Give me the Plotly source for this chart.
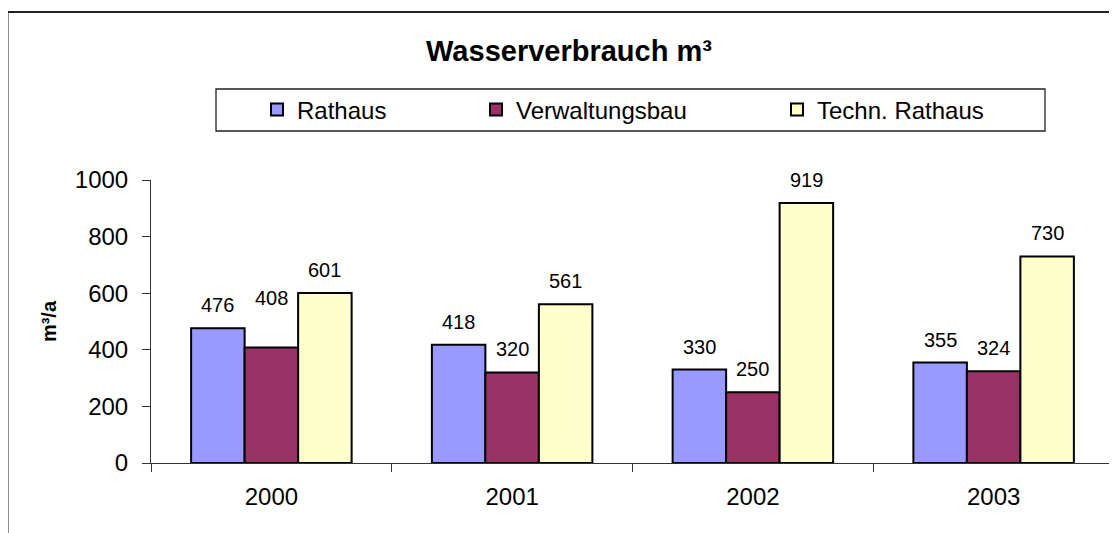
import plotly.graph_objects as go

years = ["2000", "2001", "2002", "2003"]
series_names = ["Rathaus", "Verwaltungsbau", "Techn. Rathaus"]
rathaus = [476, 418, 330, 355]
verwaltungsbau = [408, 320, 250, 324]
techn_rathaus = [601, 561, 919, 730]
y_ticks = [0, 200, 400, 600, 800, 1000]

values = [rathaus, verwaltungsbau, techn_rathaus]
colors = ["#9999FF", "#993366", "#FFFFCC"]

W, H = 1117, 533
OFF = 8  # page offset of the figure inside the browser window
L, T = 151 - OFF, 180 - OFF
R = W - (1114 - OFF)
B = H - (463 - OFF)
plot_w = W - L - R
plot_h = H - T - B
bargap = 1 / 3

def px_x(x):
    return (x - OFF - L) / plot_w

def px_y(y):
    return 1 - (y - OFF - T) / plot_h

# legend entry widths (text part), in px
legend_widths = [174, 256, 190]

fig = go.Figure()
for name, vals, col, lw in zip(series_names, values, colors, legend_widths):
    fig.add_trace(go.Bar(
        x=years, y=vals, name=name,
        marker=dict(color=col, line=dict(color="#000000", width=2)),
        legendwidth=lw,
    ))

# data labels above bars
bar_w = plot_w / len(years) * (1 - bargap) / len(series_names)
extra_lift = {(0, 1): 27}
annotations = []
for si, vals in enumerate(values):
    off = (si - (len(series_names) - 1) / 2) * bar_w
    for yi, v in enumerate(vals):
        annotations.append(dict(
            x=yi, y=v, xref="x", yref="y", text=str(v), showarrow=False,
            xshift=off, yshift=23 + extra_lift.get((yi, si), 0),
            yanchor="middle", xanchor="center",
            font=dict(family="Liberation Sans, Arial, sans-serif", size=20, color="#000"),
        ))

shapes = [
    # outer chart border (left and top)
    dict(type="line", xref="paper", yref="paper",
         x0=px_x(7.5), x1=px_x(1125), y0=px_y(12), y1=px_y(12),
         line=dict(color="#222", width=2)),
    dict(type="line", xref="paper", yref="paper",
         x0=px_x(7.5), x1=px_x(7.5), y0=px_y(12), y1=px_y(545),
         line=dict(color="#222", width=2)),
    # legend box
    dict(type="rect", xref="paper", yref="paper",
         x0=px_x(216), x1=px_x(1045), y0=px_y(131), y1=px_y(89),
         line=dict(color="#222", width=1.3), fillcolor="rgba(0,0,0,0)"),
]

fig.update_layout(
    width=W, height=H,
    margin=dict(l=L, r=R, t=T, b=B, autoexpand=False),
    paper_bgcolor="white", plot_bgcolor="white",
    font=dict(family="Liberation Sans, Arial, sans-serif", size=24, color="#000"),
    title=dict(text="<b>Wasserverbrauch m³</b>", x=(569 - OFF) / W, xanchor="center",
               y=1 - (51 - OFF) / H, yanchor="middle",
               font=dict(size=29, family="Liberation Sans, Arial, sans-serif")),
    barmode="group", bargap=bargap, bargroupgap=0,
    showlegend=True,
    legend=dict(orientation="h", x=px_x(257), xanchor="left",
                y=px_y(110), yanchor="middle",
                font=dict(size=24), bgcolor="rgba(0,0,0,0)", borderwidth=0,
                traceorder="normal"),
    xaxis=dict(type="category", range=[-0.5, len(years) - 0.5],
               showline=True, linecolor="#333", linewidth=1,
               ticks="outside", ticklen=8, tickcolor="#333", tickson="boundaries",
               ticklabelstandoff=12, showgrid=False, zeroline=False,
               tickfont=dict(size=24)),
    yaxis=dict(range=[0, 1000], tickvals=y_ticks, showline=True, linecolor="#333",
               linewidth=1, ticks="outside", ticklen=8, tickcolor="#333",
               ticklabelstandoff=9, showgrid=False, zeroline=False,
               tickfont=dict(size=24),
               title=dict(text="<b>m³/a</b>", font=dict(size=20), standoff=12)),
    annotations=annotations,
    shapes=shapes,
)

fig.write_html("out.html")
